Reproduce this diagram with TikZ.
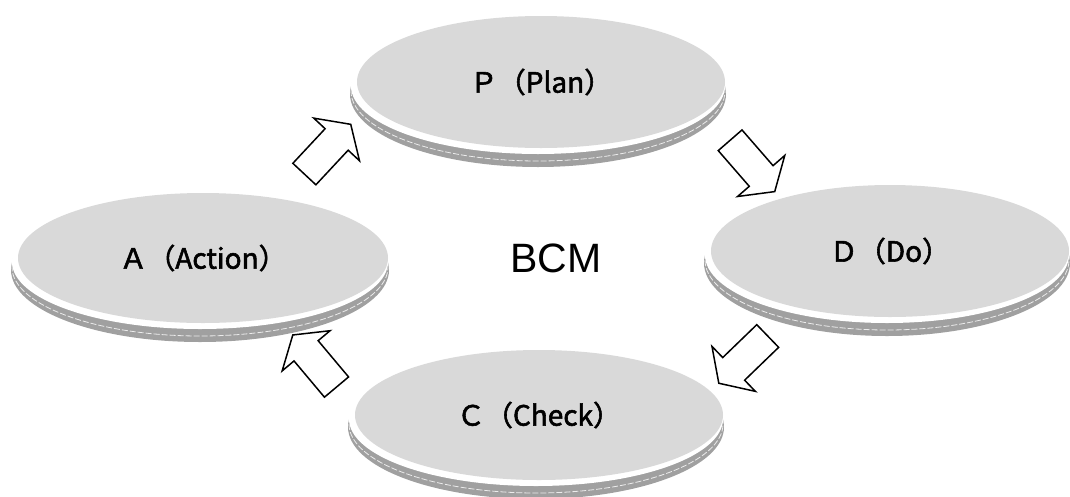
\documentclass[tikz,border=0pt]{standalone}
\usepackage{fontspec}
\setmainfont{Liberation Sans}
\newfontfamily\jpfont[FakeBold=2]{Noto Sans CJK JP}
\usetikzlibrary{shapes.geometric,shapes.arrows}

\definecolor{diskgray}{HTML}{D9D9D9}
\definecolor{rimgray}{HTML}{A0A0A0}

\tikzset{
  disk/.style={ellipse, fill=diskgray, inner sep=0pt,
    font=\jpfont\fontsize{28}{30}\selectfont},
  rimdark/.style={fill=rimgray},
  rimline/.style={draw=white!80!rimgray, line width=0.8pt, dash pattern=on 6pt off 2pt},
  rimwhite/.style={fill=white},
  blockarrow/.style={single arrow, draw, fill=white, line width=1.5pt,
    inner xsep=0pt, inner ysep=15pt, minimum height=68pt,
    single arrow head extend=15.5pt, single arrow tip angle=113, line join=miter}
}

\begin{document}
\begin{tikzpicture}[x=1pt,y=-1pt]
        \useasboundingbox (0,0) rectangle (1070,496);

        % rims under the disks
        \begin{scope}
          \fill[rimdark] (538,94) ellipse [x radius=188pt, y radius=73pt];
          \draw[rimline] (538,91) ellipse [x radius=187pt, y radius=70pt];
          \fill[rimwhite] (538,86) ellipse [x radius=187pt, y radius=68pt];

          \fill[rimdark] (200,270) ellipse [x radius=189pt, y radius=72pt];
          \draw[rimline] (200,267) ellipse [x radius=188pt, y radius=69pt];
          \fill[rimwhite] (200,262) ellipse [x radius=188pt, y radius=67pt];

          \fill[rimdark] (887,263) ellipse [x radius=183pt, y radius=73pt];
          \draw[rimline] (887,260) ellipse [x radius=182pt, y radius=70pt];
          \fill[rimwhite] (887,255) ellipse [x radius=182pt, y radius=68pt];

          \fill[rimdark] (536,427) ellipse [x radius=188pt, y radius=72pt];
          \draw[rimline] (536,424) ellipse [x radius=187pt, y radius=69pt];
          \fill[rimwhite] (536,419) ellipse [x radius=187pt, y radius=67pt];
        \end{scope}

        \begin{scope}[every node/.style={disk}]
          \node[minimum width=368pt, minimum height=132pt] (P) at (541,82)  {Ｐ（Plan）};
          \node[minimum width=370pt, minimum height=130pt] (A) at (203,258) {Ａ（Action）};
          \node[minimum width=358pt, minimum height=132pt] (D) at (890,251) {Ｄ（Do）};
          \node[minimum width=368pt, minimum height=130pt] (C) at (539,415) {Ｃ（Check）};
        \end{scope}

        \node[font=\fontsize{41}{45}\selectfont] (bcm) at (556,258) {BCM};

        \begin{scope}[every node/.style={blockarrow}]
          \node[rotate=47]  (ap) at (324,153) {};
          \node[rotate=-49] (pd) at (749,162) {};
          \node[rotate=224] (dc) at (747,356) {};
          \node[rotate=130] (ca) at (318,365) {};
        \end{scope}

\end{tikzpicture}
\end{document}
